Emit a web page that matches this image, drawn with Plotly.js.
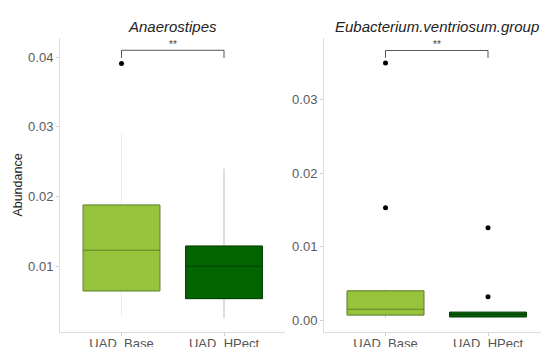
<!DOCTYPE html>
<html>
<head>
<meta charset="utf-8">
<script src="https://cdn.plot.ly/plotly-3.0.1.min.js"></script>
<style>
html, body { margin: 0; padding: 0; overflow: hidden; background: #fff; }
#chart { width: 552px; height: 347px; }
</style>
</head>
<body>
<div id="chart"></div>
<script>
// ---- data ----
const groups = ['UAD_Base', 'UAD_HPect'];
const panelTitles = ['Anaerostipes', 'Eubacterium.ventriosum.group'];
const yAxisTitle = 'Abundance';
const sigLabel = '**';

// Anaerostipes
const anaQ1 = [0.00645, 0.00535];
const anaMedian = [0.0123, 0.0100];
const anaQ3 = [0.0188, 0.0129];
const anaLowerFence = [0.0027, 0.0025];
const anaUpperFence = [0.0292, 0.0240];
const anaOutlierX = ['UAD_Base'];
const anaOutlierY = [0.0391];
const anaBracketY = [0.0399, 0.0410, 0.0410, 0.0399];
const anaTicks = [0.01, 0.02, 0.03, 0.04];
const anaTickText = ['0.01', '0.02', '0.03', '0.04'];

// Eubacterium.ventriosum.group
const eubQ1 = [0.0007, 0.00045];
const eubMedian = [0.0015, 0.0008];
const eubQ3 = [0.0040, 0.0011];
const eubLowerFence = [0.0003, 0.0003];
const eubUpperFence = [0.0042, 0.0012];
const eubOutlierX = ['UAD_Base', 'UAD_Base', 'UAD_HPect', 'UAD_HPect'];
const eubOutlierY = [0.0350, 0.0153, 0.0126, 0.0032];
const eubBracketY = [0.0357, 0.0367, 0.0367, 0.0357];
const eubTicks = [0.00, 0.01, 0.02, 0.03];
const eubTickText = ['0.00', '0.01', '0.02', '0.03'];

const bracketX = ['UAD_Base', 'UAD_Base', 'UAD_HPect', 'UAD_HPect'];

// ---- styles ----
const fillColors = ['#95c43c', '#006400'];
const medianColors = ['#5f8129', '#003c00'];
const whiskerColors = [['#eeeeee', '#bdbdbd'], ['#cccccc', '#bdbdbd']];
const FONT = 'Liberation Sans, Arial, sans-serif';

const panels = [
  {q1: anaQ1, med: anaMedian, q3: anaQ3, lo: anaLowerFence, hi: anaUpperFence,
   ox: anaOutlierX, oy: anaOutlierY, by: anaBracketY, xa: 'x', ya: 'y'},
  {q1: eubQ1, med: eubMedian, q3: eubQ3, lo: eubLowerFence, hi: eubUpperFence,
   ox: eubOutlierX, oy: eubOutlierY, by: eubBracketY, xa: 'x2', ya: 'y2'}
];

const traces = [];
panels.forEach((p, pi) => {
  groups.forEach((g, i) => {
    // whiskers
    traces.push({
      type: 'box', x: [g], q1: [p.q1[i]], median: [p.med[i]], q3: [p.q3[i]],
      lowerfence: [p.lo[i]], upperfence: [p.hi[i]],
      fillcolor: 'rgba(0,0,0,0)', line: {color: whiskerColors[pi][i], width: 1},
      whiskerwidth: 0, width: 0.75, boxpoints: false, showlegend: false,
      hoverinfo: 'skip', xaxis: p.xa, yaxis: p.ya
    });
    // box body + median
    traces.push({
      type: 'box', x: [g], q1: [p.q1[i]], median: [p.med[i]], q3: [p.q3[i]],
      lowerfence: [p.q1[i]], upperfence: [p.q3[i]],
      fillcolor: fillColors[i], line: {color: medianColors[i], width: 1},
      whiskerwidth: 0, width: 0.75, boxpoints: false, showlegend: false,
      hoverinfo: 'skip', xaxis: p.xa, yaxis: p.ya
    });
  });
  // outliers
  traces.push({
    type: 'scatter', mode: 'markers', x: p.ox, y: p.oy,
    marker: {color: '#000', size: 5}, showlegend: false, hoverinfo: 'skip',
    xaxis: p.xa, yaxis: p.ya
  });
  // significance bracket
  traces.push({
    type: 'scatter', mode: 'lines', x: bracketX, y: p.by,
    line: {color: '#555', width: 1}, showlegend: false, hoverinfo: 'skip',
    xaxis: p.xa, yaxis: p.ya
  });
});

const xBase = {
  type: 'category', categoryarray: groups, categoryorder: 'array',
  range: [-0.6, 1.6], showline: true, linecolor: '#dcdcdc', linewidth: 1,
  ticks: 'outside', ticklen: 3, tickcolor: '#cfcfcf', showgrid: false, zeroline: false,
  ticklabelstandoff: -4,
  tickfont: {family: FONT, size: 13, color: '#555'}
};
const yBase = {
  showline: true, linecolor: '#dcdcdc', linewidth: 1, ticks: 'outside', ticklen: 3,
  tickcolor: '#cfcfcf', showgrid: false, zeroline: false,
  tickfont: {family: FONT, size: 13, color: '#5a5a5a'}
};

const layout = {
  width: 552, height: 347,
  margin: {l: 60, r: 2, t: 38, b: 15},
  paper_bgcolor: '#fff', plot_bgcolor: '#fff',
  showlegend: false, boxmode: 'overlay',
  xaxis: Object.assign({}, xBase, {domain: [0, 0.4602], anchor: 'y'}),
  xaxis2: Object.assign({}, xBase, {domain: [0.5388, 0.999], anchor: 'y2'}),
  yaxis: Object.assign({}, yBase, {
    range: [0.00056, 0.04276], anchor: 'x', tickvals: anaTicks, ticktext: anaTickText,
    title: {text: yAxisTitle, font: {family: FONT, size: 12.5, color: '#222'}, standoff: 2}
  }),
  yaxis2: Object.assign({}, yBase, {
    range: [-0.0016, 0.0384], anchor: 'x2', tickvals: eubTicks, ticktext: eubTickText
  }),
  annotations: [
    {text: panelTitles[0], xref: 'x domain', yref: 'y domain', x: 0.5, y: 1, yshift: 11.5,
     yanchor: 'middle', showarrow: false, font: {family: FONT, size: 15, color: '#222', style: 'italic'}},
    {text: panelTitles[1], xref: 'x2 domain', yref: 'y2 domain', x: 0.5, y: 1, yshift: 11.5,
     yanchor: 'middle', showarrow: false, font: {family: FONT, size: 15, color: '#222', style: 'italic'}},
    {text: sigLabel, xref: 'x', yref: 'y', x: 0.5, y: anaBracketY[1], yanchor: 'bottom', yshift: -2,
     showarrow: false, font: {family: FONT, size: 10, color: '#444'}},
    {text: sigLabel, xref: 'x2', yref: 'y2', x: 0.5, y: eubBracketY[1], yanchor: 'bottom', yshift: -2,
     showarrow: false, font: {family: FONT, size: 10, color: '#444'}}
  ]
};

Plotly.newPlot('chart', traces, layout, {displayModeBar: false, staticPlot: true});
</script>
</body>
</html>
